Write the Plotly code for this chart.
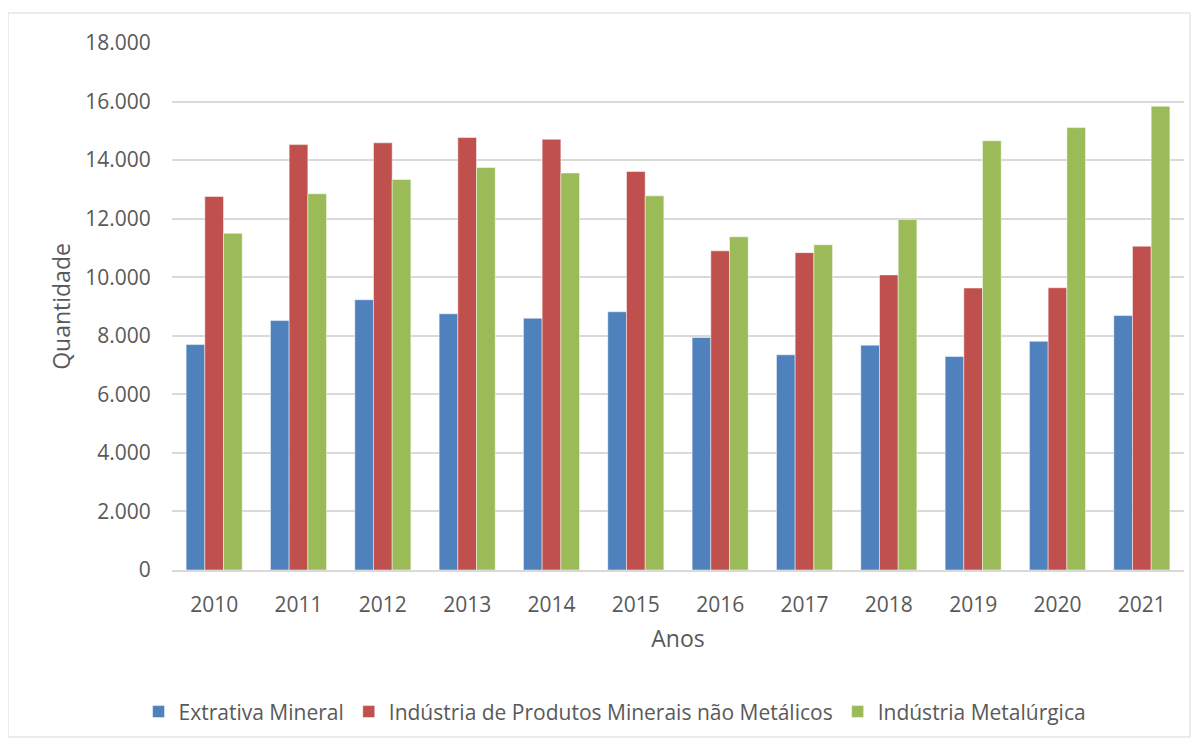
import plotly.graph_objects as go

anos = ["2010", "2011", "2012", "2013", "2014", "2015", "2016", "2017", "2018", "2019", "2020", "2021"]
extrativa = [7700, 8520, 9230, 8750, 8600, 8820, 7940, 7350, 7680, 7290, 7810, 8690]
nao_metalicos = [12760, 14530, 14590, 14770, 14710, 13610, 10900, 10840, 10080, 9630, 9640, 11060]
metalurgica = [11500, 12850, 13340, 13750, 13560, 12780, 11380, 11110, 11970, 14660, 15110, 15840]

series = [
    ("Extrativa Mineral", extrativa, "#4F81BD"),
    ("Indústria de Produtos Minerais não Metálicos", nao_metalicos, "#C0504D"),
    ("Indústria Metalúrgica", metalurgica, "#9BBB59"),
]

FONT = "Open Sans"
TXT = "#595959"

fig = go.Figure()
for name, vals, color in series:
    fig.add_trace(go.Bar(
        x=anos, y=vals, name=name,
        marker=dict(color=color, line=dict(color="rgba(255,255,255,0.6)", width=0.8)),
    ))

# page has an 8px body margin: figure origin sits at page (8, 8)
W, H = 1195, 731
L, R, T, B = 164, 19, 35, 169
pw, ph = W - L - R, H - T - B

def px_x(x):
    return (x - L) / pw

def px_y(y):
    return (H - B - y) / ph

fig.add_shape(type="rect", xref="paper", yref="paper",
              x0=px_x(0), x1=px_x(1182), y0=px_y(729), y1=px_y(5),
              line=dict(color="#D9D9D9", width=1), fillcolor="rgba(0,0,0,0)", layer="below")

fig.update_layout(
    width=W, height=H,
    margin=dict(l=L, r=R, t=T, b=B, autoexpand=False),
    paper_bgcolor="white", plot_bgcolor="white",
    separators=",.",
    barmode="group", bargap=0.335, bargroupgap=0,
    font=dict(family=FONT, size=20, color=TXT),
    legend=dict(
        orientation="h", xref="container", yref="container",
        x=0.508, xanchor="center", y=0.037, yanchor="middle",
        font=dict(family=FONT, size=21, color=TXT),
        itemwidth=30, tracegroupgap=0,
    ),
    showlegend=True,
)
fig.update_yaxes(
    range=[0, 18000], dtick=2000, tickformat=",.0f",
    showgrid=True, gridcolor="#D9D9D9", gridwidth=1.5,
    zeroline=False, showline=False,
    ticks="outside", ticklen=16, tickcolor="rgba(0,0,0,0)",
    tickfont=dict(family=FONT, size=21, color=TXT),
    title=dict(text="Quantidade", font=dict(family=FONT, size=23, color=TXT), standoff=8),
    automargin=False,
)
fig.update_xaxes(
    showgrid=False, showline=True, linecolor="#D9D9D9", linewidth=1.5,
    ticks="outside", ticklen=15, tickcolor="rgba(0,0,0,0)",
    tickfont=dict(family=FONT, size=21, color=TXT),
    title=dict(text="Anos", font=dict(family=FONT, size=23, color=TXT), standoff=14),
    automargin=False,
)

fig.write_html("out.html")
